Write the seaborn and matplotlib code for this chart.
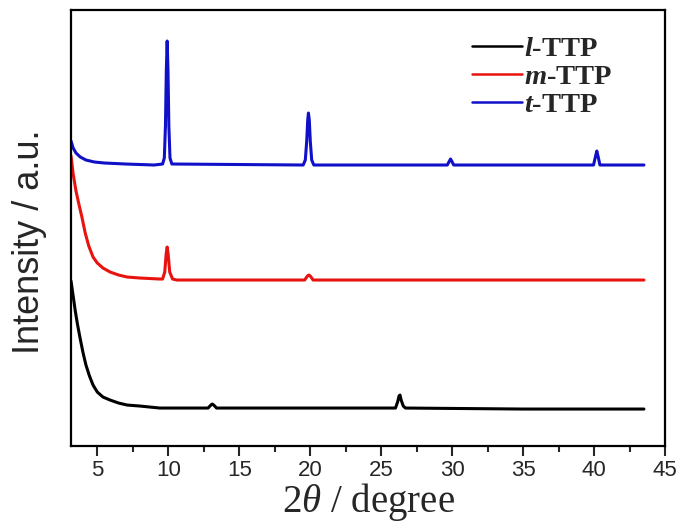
import numpy as np
import pandas as pd
import matplotlib
matplotlib.use('Agg')
import matplotlib.pyplot as plt
import seaborn as sns
from matplotlib.ticker import MultipleLocator

l_x = [3.15, 3.3, 3.45, 3.6, 3.8, 4.0, 4.2, 4.45, 4.7, 5.0, 5.4, 5.9, 6.5, 7.1, 8.0, 9.4, 11.0,
       12.8, 13.0, 13.1, 13.2, 13.4, 20.0, 26.0, 26.15, 26.25, 26.32, 26.4, 26.55, 26.7, 35.0, 43.5]
l_y = [165, 150, 135, 122, 107, 93, 81, 70, 61, 54, 49, 46, 43, 41, 40, 38, 38,
       38, 41, 42, 41, 38, 38, 38, 44, 50, 51, 46, 40, 38, 37, 37]

m_x = [3.15, 3.3, 3.5, 3.7, 3.9, 4.15, 4.4, 4.7, 5.0, 5.4, 5.9, 6.5, 7.1, 8.0, 9.4,
       9.6, 9.75, 9.85, 9.92, 9.99, 10.1, 10.3, 10.6, 19.6, 19.8, 19.9, 20.0, 20.2, 43.5]
m_y = [290, 272, 255, 242, 230, 213, 200, 189, 183, 178, 174, 171, 169, 168, 167,
       167, 174, 192, 199, 192, 174, 167, 166, 166, 170, 171, 170, 166, 166]

t_x = [3.15, 3.3, 3.5, 3.8, 4.2, 4.8, 5.5, 7.0, 9.0, 9.6, 9.72, 9.8, 9.86, 9.92, 9.98, 10.04, 10.12, 10.25,
       19.5, 19.65, 19.75, 19.82, 19.87, 19.93, 20.0, 20.1, 20.25, 29.65, 29.8, 29.88, 29.96, 30.1,
       39.95, 40.08, 40.18, 40.28, 40.4, 43.5]
t_y = [305, 298, 293, 289, 286, 284, 283, 282, 281, 282, 288, 320, 375, 405, 375, 320, 288, 282,
       281, 286, 305, 326, 333, 326, 305, 286, 281, 281, 285, 287, 285, 281,
       281, 289, 295, 289, 281, 281]

labels = [r'$\mathbfit{l}$-TTP', r'$\mathbfit{m}$-TTP', r'$\mathbfit{t}$-TTP']
colors = ['black', '#e8130f', '#1010c8']

sns.set_style('ticks')
plt.rcParams['font.family'] = ['Liberation Sans', 'DejaVu Sans']
plt.rcParams['mathtext.fontset'] = 'custom'
plt.rcParams['mathtext.rm'] = 'Liberation Serif'
plt.rcParams['mathtext.it'] = 'Liberation Serif:italic'
plt.rcParams['mathtext.bf'] = 'Liberation Serif:bold'
plt.rcParams['mathtext.bfit'] = 'Liberation Serif:italic:bold'

fig = plt.figure(figsize=(6.83, 5.26), dpi=100)
ax = fig.add_axes([0.104, 0.152, 0.870, 0.829])

for xs, ys, lab, c in zip([l_x, m_x, t_x], [l_y, m_y, t_y], labels, colors):
    sns.lineplot(x=xs, y=ys, ax=ax, color=c, lw=2.2, label=lab, sort=False)

ax.set_xlim(3.15, 45)
ax.set_ylim(0, 436)
ax.set_xticks([5, 10, 15, 20, 25, 30, 35, 40, 45])
ax.xaxis.set_minor_locator(MultipleLocator(2.5))
ax.set_yticks([])
ax.tick_params(axis='x', which='major', direction='out', length=7, width=1.5, labelsize=16, pad=3)
ax.tick_params(axis='x', which='minor', direction='out', length=4, width=1.5)
for s in ax.spines.values():
    s.set_linewidth(1.6)
    s.set_color('black')

ax.set_ylabel('Intensity / a.u.', fontsize=26)
ax.yaxis.set_label_coords(-0.041, 0.468)
ax.set_xlabel(r'$2\theta$ / degree', fontsize=28, family='Liberation Serif', labelpad=0)

leg = ax.legend(loc='upper right', bbox_to_anchor=(0.954, 1.0), frameon=False,
                prop={'family': 'Liberation Serif', 'weight': 'bold', 'size': 20.5},
                handlelength=1.75, handletextpad=0.08, labelspacing=0.08)
for line in leg.get_lines():
    line.set_linewidth(1.8)

fig.savefig('out.png', dpi=100)
